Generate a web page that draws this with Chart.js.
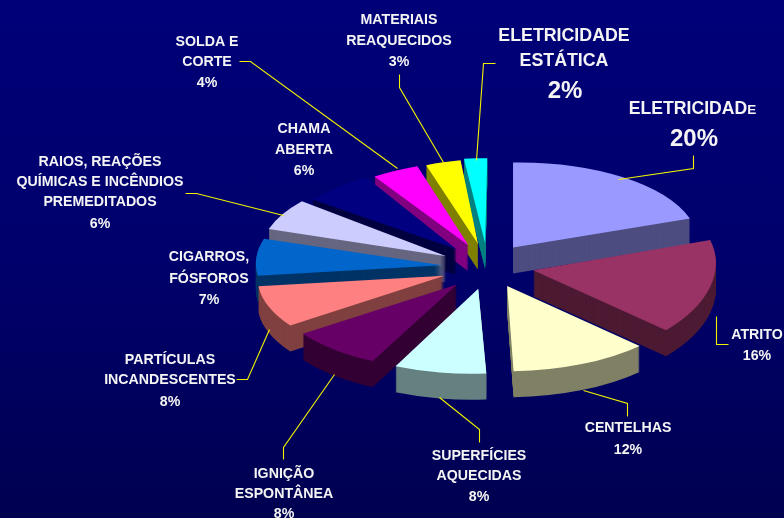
<!DOCTYPE html>
<html><head><meta charset="utf-8">
<script src="https://cdn.jsdelivr.net/npm/chart.js@4"></script>
<style>
html,body{margin:0;padding:0;width:784px;height:518px;overflow:hidden;background:linear-gradient(to bottom,#000078 0%,#00006c 50%,#000050 100%);}
canvas{display:block}
</style></head><body>
<canvas id="c" width="784" height="518"></canvas>
<script>
const categories = ["ELETRICIDADE","ATRITO","CENTELHAS","SUPERFÍCIES AQUECIDAS","IGNIÇÃO ESPONTÂNEA","PARTÍCULAS INCANDESCENTES","CIGARROS, FÓSFOROS","RAIOS, REAÇÕES QUÍMICAS E INCÊNDIOS PREMEDITADOS","CHAMA ABERTA","SOLDA E CORTE","MATERIAIS REAQUECIDOS","ELETRICIDADE ESTÁTICA"];
const values = [20,16,12,8,8,8,7,6,6,4,3,2];
const topColors = ["#9999ff","#993366","#ffffcc","#ccffff","#660066","#ff8080","#0066cc","#ccccff","#000080","#ff00ff","#ffff00","#00ffff"];
const sideColors = ["#4d4d80","#4d1a33","#808066","#668080","#330033","#804040","#003366","#666680","#000040","#800080","#808000","#008080"];
// Perspective approximation per slice (affine terms and small x nudges)
const tilts = [0,-0.125,-0.2,-0.18,-0.2,-0.2,-0.1,-0.12,-0.13,-0.08,-0.07,-0.025];
const skews = [-0.015,-0.005,0.04,0.02,0.035,0.03,0.03,0.034,0,-0.03,-0.04,0];
const stretchX = [1,0.98,1,1,1,1,1,1,1,1,1,1];
const stretchY = [1,1.12,1,1,1,1,1,1,1,1,1,1];
const nudges = [-2,0,-3,-4,-4,-2,0,0,0,0,0,0];

const squash = 0.457, explodeX = 46, explodeY = 50, thickness = 26;

const labelBlocks = [
 {x:399,size:14.2,lines:[["MATERIAIS",24],["REAQUECIDOS",45],["3%",66]]},
 {x:207,size:14.2,lines:[["SOLDA E",46],["CORTE",66],["4%",87]]},
 {x:304,size:14.2,lines:[["CHAMA",133],["ABERTA",154],["6%",175]]},
 {x:100,size:14.2,lines:[["RAIOS, REAÇÕES",166],["QUÍMICAS E INCÊNDIOS",186],["PREMEDITADOS",206],["6%",228]]},
 {x:209,size:14.2,lines:[["CIGARROS,",261],["FÓSFOROS",283],["7%",304]]},
 {x:170,size:14.2,lines:[["PARTÍCULAS",364],["INCANDESCENTES",384],["8%",406]]},
 {x:284,size:14.2,lines:[["IGNIÇÃO",478],["ESPONTÂNEA",498],["8%",518]]},
 {x:479,size:14.2,lines:[["SUPERFÍCIES",460],["AQUECIDAS",480],["8%",501]]},
 {x:628,size:14.2,lines:[["CENTELHAS",432],["12%",454]]},
 {x:757,size:14.2,lines:[["ATRITO",339],["16%",360]]},
 {x:564,size:17.8,lines:[["ELETRICIDADE",41],["ESTÁTICA",66]]},
 {x:565,size:24,lines:[["2%",98]]},
 {x:694,size:24,lines:[["20%",146]]}
];
const leaderLines = [
 [[495,63],[483,63],[476,160]],
 [[399,74],[399,87],[443,162]],
 [[693,155],[693,168],[618,179]],
 [[334,374],[283,447],[283,459]],
 [[439,397],[479,429],[479,442]],
 [[583,390],[627,403],[627,416]],
 [[269,329],[247,379],[236,379]],
 [[716,316],[716,344],[728,344]],
 [[185,193],[196,193],[283,215]],
 [[239,61],[250,61],[397,168]]
];

const pie3d = {
  id:'pie3d',
  beforeDatasetDraw(chart,args){
    const ctx = chart.ctx;
    const arcs = chart.getDatasetMeta(0).data.map((arc,i)=>{
      const mid = (arc.startAngle+arc.endAngle)/2;
      return {arc,i,mid,dx:Math.cos(mid)*explodeX+nudges[i],dy:Math.sin(mid)*explodeY};
    }).sort((a,b)=>a.dy-b.dy);
    for(const s of arcs){
      const base = s.arc.options;
      for(let t=thickness;t>=0;t--){
        const col = t===0?topColors[s.i]:sideColors[s.i];
        s.arc.options = Object.assign({},base,{backgroundColor:col,borderColor:col,borderWidth:0,offset:0});
        ctx.save();
        const ax = s.arc.x+s.dx, ay = s.arc.y+s.dy*squash;
        ctx.translate(ax,ay+t);
        ctx.transform(1,skews[s.i],tilts[s.i],1,0,0);
        ctx.scale(stretchX[s.i],squash*stretchY[s.i]);
        ctx.translate(-s.arc.x,-s.arc.y);
        s.arc.draw(ctx);
        ctx.restore();
      }
      s.arc.options = base;
    }
    return false;
  },
  afterDraw(chart){
    const ctx = chart.ctx;
    ctx.save();
    ctx.strokeStyle='#f2f200';ctx.lineWidth=1.1;
    for(const l of leaderLines){
      ctx.beginPath();
      l.forEach((p,i)=>i?ctx.lineTo(p[0]+.5,p[1]+.5):ctx.moveTo(p[0]+.5,p[1]+.5));
      ctx.stroke();
    }
    ctx.fillStyle='#f4f4f4';ctx.textAlign='center';ctx.textBaseline='alphabetic';
    for(const b of labelBlocks){
      ctx.font='bold '+b.size+'px "Liberation Sans"';
      for(const [txt,y] of b.lines) ctx.fillText(txt,b.x,y);
    }
    ctx.textAlign='left';
    ctx.font='bold 17.6px "Liberation Sans"';
    const main='ELETRICIDAD',w=ctx.measureText(main).width;
    const x0=693-(w+10)/2;
    ctx.fillText(main,x0,114);
    ctx.font='bold 13.5px "Liberation Sans"';
    ctx.fillText('E',x0+w,114);
    ctx.restore();
  }
};

new Chart(document.getElementById('c'),{
  type:'pie',
  data:{labels:categories,datasets:[{data:values,backgroundColor:topColors,borderWidth:0}]},
  options:{
    responsive:false,animation:false,radius:186,
    layout:{padding:{left:192,top:14}},
    plugins:{legend:{display:false},tooltip:{enabled:false},title:{display:false}}
  },
  plugins:[pie3d]
});
</script>
</body></html>
